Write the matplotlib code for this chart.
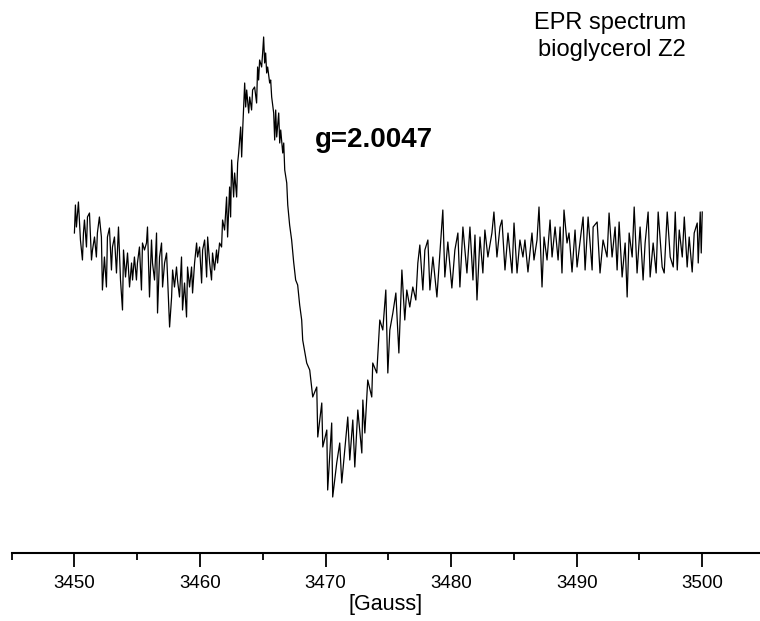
import numpy as np
import matplotlib
matplotlib.use('Agg')
import matplotlib.pyplot as plt
from matplotlib.ticker import MultipleLocator

plt.rcParams['font.family'] = ['Liberation Sans', 'DejaVu Sans']

# magnetic field [Gauss] and first-derivative EPR signal (arb. units)
field = [
    3450.00, 3450.08, 3450.16, 3450.32, 3450.48, 3450.64, 3450.72, 3450.80, 3450.96, 3451.04,
    3451.20, 3451.36, 3451.44, 3451.60, 3451.75, 3451.83, 3451.99, 3452.15, 3452.23, 3452.39,
    3452.55, 3452.63, 3452.79, 3452.95, 3453.03, 3453.19, 3453.35, 3453.51, 3453.67, 3453.83,
    3453.91, 3454.07, 3454.23, 3454.39, 3454.55, 3454.63, 3454.78, 3454.94, 3455.02, 3455.18,
    3455.34, 3455.42, 3455.58, 3455.74, 3455.82, 3455.98, 3456.14, 3456.22, 3456.38, 3456.54,
    3456.62, 3456.78, 3456.94, 3457.02, 3457.18, 3457.34, 3457.42, 3457.58, 3457.74, 3457.82,
    3457.97, 3458.13, 3458.21, 3458.37, 3458.53, 3458.61, 3458.77, 3458.93, 3459.01, 3459.17,
    3459.33, 3459.41, 3459.57, 3459.73, 3459.81, 3459.97, 3460.13, 3460.21, 3460.37, 3460.53,
    3460.61, 3460.77, 3460.92, 3461.00, 3461.16, 3461.32, 3461.40, 3461.56, 3461.72, 3461.80,
    3461.96, 3462.12, 3462.20, 3462.36, 3462.44, 3462.52, 3462.68, 3462.76, 3462.92, 3463.00,
    3463.08, 3463.24, 3463.32, 3463.40, 3463.48, 3463.56, 3463.64, 3463.72, 3463.88, 3463.96,
    3464.11, 3464.19, 3464.35, 3464.51, 3464.59, 3464.67, 3464.75, 3464.91, 3464.99, 3465.07,
    3465.15, 3465.23, 3465.31, 3465.39, 3465.55, 3465.63, 3465.71, 3465.87, 3465.95, 3466.03,
    3466.11, 3466.27, 3466.35, 3466.43, 3466.59, 3466.67, 3466.75, 3466.91, 3466.99, 3467.14,
    3467.30, 3467.46, 3467.62, 3467.78, 3467.94, 3468.10, 3468.18, 3468.50, 3468.74, 3468.98,
    3469.30, 3469.38, 3469.70, 3469.78, 3470.10, 3470.17, 3470.49, 3470.57, 3470.89, 3471.13,
    3471.29, 3471.53, 3471.77, 3471.93, 3472.17, 3472.33, 3472.57, 3472.89, 3472.97, 3473.13,
    3473.36, 3473.68, 3473.76, 3474.08, 3474.32, 3474.56, 3474.80, 3474.96, 3475.12, 3475.36,
    3475.60, 3475.84, 3476.08, 3476.31, 3476.47, 3476.71, 3476.95, 3477.19, 3477.35, 3477.51,
    3477.75, 3477.91, 3478.15, 3478.31, 3478.55, 3478.87, 3479.11, 3479.34, 3479.50, 3479.74,
    3480.06, 3480.30, 3480.54, 3480.70, 3480.94, 3481.26, 3481.50, 3481.74, 3481.90, 3482.06,
    3482.30, 3482.53, 3482.69, 3482.93, 3483.25, 3483.41, 3483.65, 3483.89, 3484.05, 3484.29,
    3484.53, 3484.85, 3485.01, 3485.25, 3485.48, 3485.72, 3485.88, 3486.12, 3486.44, 3486.60,
    3486.84, 3487.00, 3487.24, 3487.40, 3487.64, 3487.88, 3488.04, 3488.28, 3488.52, 3488.68,
    3488.83, 3488.99, 3489.23, 3489.39, 3489.63, 3489.87, 3490.03, 3490.35, 3490.51, 3490.67,
    3490.91, 3491.23, 3491.31, 3491.63, 3491.86, 3492.10, 3492.42, 3492.58, 3492.82, 3493.06,
    3493.22, 3493.38, 3493.62, 3493.86, 3494.02, 3494.18, 3494.42, 3494.58, 3494.81, 3495.05,
    3495.29, 3495.45, 3495.69, 3495.85, 3496.09, 3496.33, 3496.49, 3496.81, 3496.97, 3497.21,
    3497.45, 3497.69, 3497.85, 3498.01, 3498.17, 3498.41, 3498.57, 3498.80, 3498.96, 3499.20,
    3499.36, 3499.60, 3499.68, 3499.84, 3499.92, 3500.00,
]
signal = [
    12, 40, 18, 43, 5, -15, 12, 25, -2, 28,
    32, -15, -5, 8, -12, 12, 28, 8, -45, -12,
    -42, 8, 17, -25, -2, 8, -28, 18, -35, -65,
    -5, -32, -8, -42, -18, -35, -12, -35, -18, -2,
    -45, 2, -5, 2, 18, -52, 5, -18, -35, 12,
    -68, -12, 2, -42, -18, -8, -32, -82, -52, -25,
    -42, -22, -35, -52, -12, -65, -38, -72, -22, -42,
    -22, -48, -18, 2, -12, -2, -38, -5, 5, -32,
    8, -18, -35, -8, -25, -5, -18, 2, -2, 25,
    15, 48, 8, 58, 28, 85, 48, 72, 48, 82,
    92, 118, 88, 115, 138, 162, 138, 155, 132, 148,
    135, 155, 158, 142, 178, 165, 185, 178, 192, 208,
    182, 192, 172, 178, 162, 165, 148, 132, 105, 135,
    108, 132, 102, 115, 92, 102, 75, 62, 40, 20,
    5, -17, -35, -40, -60, -75, -95, -118, -125, -152,
    -142, -192, -158, -202, -185, -245, -178, -252, -218, -198,
    -238, -205, -172, -215, -175, -222, -165, -208, -155, -188,
    -135, -152, -118, -128, -75, -85, -45, -128, -85, -68,
    -48, -108, -25, -75, -45, -62, -42, -55, -18, 0,
    -45, -5, 5, -45, -12, -52, -8, 35, -32, 3,
    -43, -5, 12, -42, 18, -28, 18, -35, 10, -55,
    8, -28, 15, -12, 12, 33, -12, 18, 25, -25,
    12, -28, 22, -28, 5, -12, 5, -27, 12, -15,
    5, 38, -42, 8, -15, 25, -12, 18, -15, 18,
    -28, 35, 2, 12, -27, 15, -22, 12, 28, -25,
    28, -25, 18, 23, -28, 5, -12, 32, -12, 18,
    -25, 23, -32, 2, -52, 12, -12, 38, -28, 18,
    -35, 2, 33, -32, 2, -28, 33, -22, -28, 33,
    -12, -22, 33, -25, 15, -12, 28, -22, 8, -27,
    12, 22, -18, 33, -8, 33,
]

major_ticks = [3450, 3460, 3470, 3480, 3490, 3500]
tick_labels = ['3450', '3460', '3470', '3480', '3490', '3500']

fig = plt.figure(figsize=(7.6, 6.21), dpi=100)
ax = fig.add_axes([0.0153, 0.1095, 0.9847, 0.8905])

ax.plot(field, signal, color='black', lw=0.9)

ax.set_xlim(3445, 3504.6)
ax.set_ylim(-308, 245)

for side in ['left', 'right', 'top']:
    ax.spines[side].set_visible(False)
ax.spines['bottom'].set_linewidth(1.5)
ax.set_yticks([])

ax.set_xticks(major_ticks)
ax.set_xticklabels(tick_labels)
ax.xaxis.set_minor_locator(MultipleLocator(5))
ax.tick_params(axis='x', which='major', direction='out', length=10, width=1.3,
               labelsize=13.5, pad=6)
ax.tick_params(axis='x', which='minor', direction='out', length=5, width=1.3)
ax.set_xlabel('[Gauss]', fontsize=15.5, labelpad=1)

fig.text(686 / 760, 1 - 56 / 621, 'EPR spectrum\nbioglycerol Z2', ha='right',
         va='baseline', fontsize=17, linespacing=1.3)
fig.text(315 / 760, 1 - 147 / 621, 'g=2.0047', ha='left', va='baseline',
         fontsize=20, fontweight='bold')

plt.savefig('out.png', dpi=100)
